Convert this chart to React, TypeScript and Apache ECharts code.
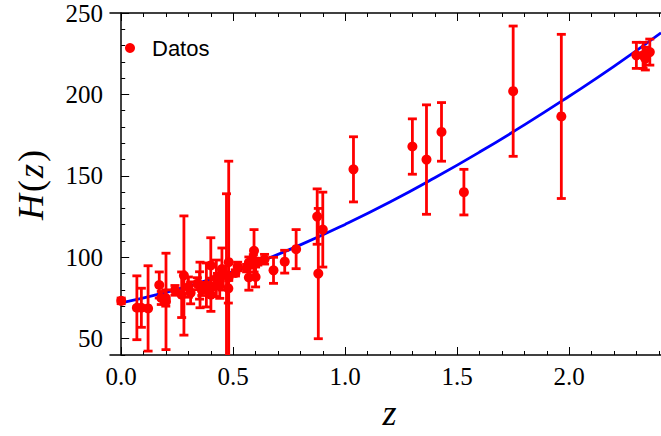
import React, { useEffect, useRef } from "react";
import * as echarts from "echarts";

// Observational H(z) data: redshift, H(z), 1-sigma error
const zVals = [
  0.0, 0.07, 0.09, 0.12, 0.17, 0.179, 0.199, 0.2, 0.24, 0.27, 0.28, 0.3, 0.31, 0.34,
  0.35, 0.352, 0.36, 0.38, 0.3802, 0.4, 0.4, 0.4004, 0.4247, 0.43, 0.44, 0.44, 0.4497,
  0.47, 0.4783, 0.48, 0.48, 0.51, 0.52, 0.56, 0.57, 0.57, 0.59, 0.593, 0.6, 0.61, 0.64,
  0.68, 0.73, 0.781, 0.875, 0.88, 0.9, 1.037, 1.3, 1.363, 1.43, 1.53, 1.75, 1.965,
  2.3, 2.33, 2.34, 2.36,
];
const hVals = [
  73.24, 69, 69, 68.6, 83, 75, 75, 72.9, 79.69, 77, 88.8, 81.7, 78.17, 83.8,
  82.7, 83, 79.93, 81.5, 83, 95, 82.04, 77, 87.1, 86.45, 82.6, 84.81, 92.8,
  89, 80.9, 97, 87.79, 90.4, 94.35, 93.34, 87.6, 96.8, 98.48, 104, 87.9, 97.3, 98.82,
  92, 97.3, 105, 125, 90, 117, 154, 168, 160, 177, 140, 202, 186.5,
  224, 224, 222, 226,
];
const errVals = [
  1.74, 19.6, 12, 26.2, 8, 4, 5, 29.6, 2.99, 14, 36.6, 6.22, 6.74, 3.66,
  8.4, 14, 3.39, 1.9, 13.5, 17, 2.03, 10.2, 11.2, 3.68, 7.8, 1.83, 12.9,
  50, 9, 62, 2.03, 1.9, 2.64, 2.3, 7.8, 3.4, 3.18, 13, 6.1, 2.1, 2.98,
  8, 7, 12, 17, 40, 23, 20, 17, 33.6, 18, 14, 40, 50.4,
  8, 8, 7, 8,
];

// Model curve
const curveZ = [0, 0.2, 0.4, 0.6, 0.8, 1.0, 1.2, 1.4, 1.6, 1.8, 2.0, 2.2, 2.41];
const curveH = [72, 78.4, 86.5, 96.3, 107.6, 120.2, 133.9, 148.8, 164.6, 181.3, 198.9, 217.2, 237.8];

const xMajor = [0, 0.5, 1.0, 1.5, 2.0];
const xMinor = [0, 0.1, 0.2, 0.3, 0.4, 0.5, 0.6, 0.7, 0.8, 0.9, 1.0, 1.1, 1.2, 1.3, 1.4, 1.5, 1.6, 1.7, 1.8, 1.9, 2.0, 2.1, 2.2, 2.3, 2.4];
const yMajor = [50, 100, 150, 200, 250];
const yMinor = [40, 50, 60, 70, 80, 90, 100, 110, 120, 130, 140, 150, 160, 170, 180, 190, 200, 210, 220, 230, 240, 250];

const X_MIN = -0.05;
const X_MAX = 2.41;
const Y_MIN = 40;
const Y_MAX = 250;

const SERIF = "Liberation Serif";

export default function App() {
  const ref = useRef<HTMLDivElement>(null);

  useEffect(() => {
    if (!ref.current) return;
    const chart = echarts.init(ref.current, null, { renderer: "svg" });

    const pts = zVals.map((z, i) => [z, hVals[i], errVals[i]]);
    const curve = curveZ.map((z, i) => [z, curveH[i]]);

    const axisLine = { show: true, lineStyle: { color: "#000", width: 1.5 } };
    const tickStyle = { color: "#000", width: 1 };

    const xBase = (position: string, major: boolean, labels: boolean) => ({
      type: "value",
      min: X_MIN,
      max: X_MAX,
      position,
      axisLine: major ? axisLine : { show: false },
      axisTick: {
        show: true,
        inside: true,
        length: major ? 8 : 4,
        customValues: major ? xMajor : xMinor,
        lineStyle: tickStyle,
      },
      axisLabel: labels
        ? {
            show: true,
            customValues: xMajor,
            formatter: (v: number) => v.toFixed(1),
            margin: 9,
            fontFamily: SERIF,
            fontSize: 25,
            fontWeight: "normal",
            color: "#000",
          }
        : { show: false },
      splitLine: { show: false },
    });

    const yBase = (major: boolean, labels: boolean) => ({
      type: "value",
      min: Y_MIN,
      max: Y_MAX,
      position: "left",
      axisLine: major ? axisLine : { show: false },
      axisTick: {
        show: true,
        inside: true,
        length: major ? 8 : 4,
        customValues: major ? yMajor : yMinor,
        lineStyle: tickStyle,
      },
      axisLabel: labels
        ? {
            show: true,
            customValues: yMajor,
            margin: 7,
            fontFamily: SERIF,
            fontSize: 25,
            fontWeight: "normal",
            color: "#000",
          }
        : { show: false },
      splitLine: { show: false },
    });

    const xMain: any = xBase("bottom", true, true);
    xMain.name = "z";
    xMain.nameLocation = "middle";
    xMain.nameGap = 40;
    xMain.nameTextStyle = {
      fontFamily: SERIF,
      fontStyle: "italic",
      fontSize: 36,
      color: "#000",
      padding: [0, 0, 0, 8],
    };

    const yMain: any = yBase(true, true);
    yMain.name = "{i|H}{n|(}{i|z}{n|)}";
    yMain.nameLocation = "middle";
    yMain.nameGap = 61;
    yMain.nameTextStyle = {
      fontFamily: SERIF,
      fontSize: 36,
      color: "#000",
      rich: {
        i: { fontFamily: SERIF, fontStyle: "italic", fontSize: 36, color: "#000" },
        n: { fontFamily: SERIF, fontSize: 36, color: "#000", padding: [0, 2, 0, 2] },
      },
    };

    chart.setOption({
      animation: false,
      backgroundColor: "#fff",
      textStyle: { fontFamily: SERIF },
      grid: { left: 110, right: 0, top: 13, bottom: 80, containLabel: false },
      legend: {
        show: true,
        data: [{ name: "Datos", icon: "circle", itemStyle: { color: "#ff0000", opacity: 1 } }],
        left: 120,
        top: 32,
        itemWidth: 10,
        itemHeight: 10,
        textStyle: {
          fontFamily: "Liberation Sans",
          fontSize: 22,
          color: "#000",
          padding: [0, 0, 0, 12],
        },
      },
      xAxis: [
        xMain,
        xBase("bottom", false, false),
        xBase("top", true, false),
        xBase("top", false, false),
      ],
      yAxis: [yMain, yBase(false, false)],
      series: [
        {
          name: "Modelo",
          type: "line",
          data: curve,
          xAxisIndex: 0,
          yAxisIndex: 0,
          smooth: true,
          showSymbol: false,
          symbol: "none",
          lineStyle: { color: "#0000ff", width: 2.8 },
          clip: true,
          z: 1,
        },
        {
          name: "Errores",
          type: "custom",
          xAxisIndex: 0,
          yAxisIndex: 0,
          data: pts,
          clip: true,
          z: 2,
          renderItem: (params: any, api: any) => {
            const x = api.value(0);
            const y = api.value(1);
            const e = api.value(2);
            const top = api.coord([x, y + e]);
            const bot = api.coord([x, y - e]);
            const half = 4.5;
            const style = { stroke: "#ff0000", lineWidth: 2.8 };
            return {
              type: "group",
              children: [
                { type: "line", shape: { x1: top[0], y1: top[1], x2: bot[0], y2: bot[1] }, style },
                { type: "line", shape: { x1: top[0] - half, y1: top[1], x2: top[0] + half, y2: top[1] }, style },
                { type: "line", shape: { x1: bot[0] - half, y1: bot[1], x2: bot[0] + half, y2: bot[1] }, style },
              ],
            };
          },
        },
        {
          name: "Datos",
          type: "scatter",
          xAxisIndex: 0,
          yAxisIndex: 0,
          data: pts.map((p) => [p[0], p[1]]),
          symbol: "circle",
          symbolSize: 10,
          itemStyle: { color: "#ff0000", opacity: 1 },
          clip: true,
          z: 3,
        },
      ],
    });

    return () => chart.dispose();
  }, []);

  return (
    <div
      ref={ref}
      style={{ position: "absolute", left: 0, top: 0, width: 661, height: 436, background: "#fff" }}
    />
  );
}
